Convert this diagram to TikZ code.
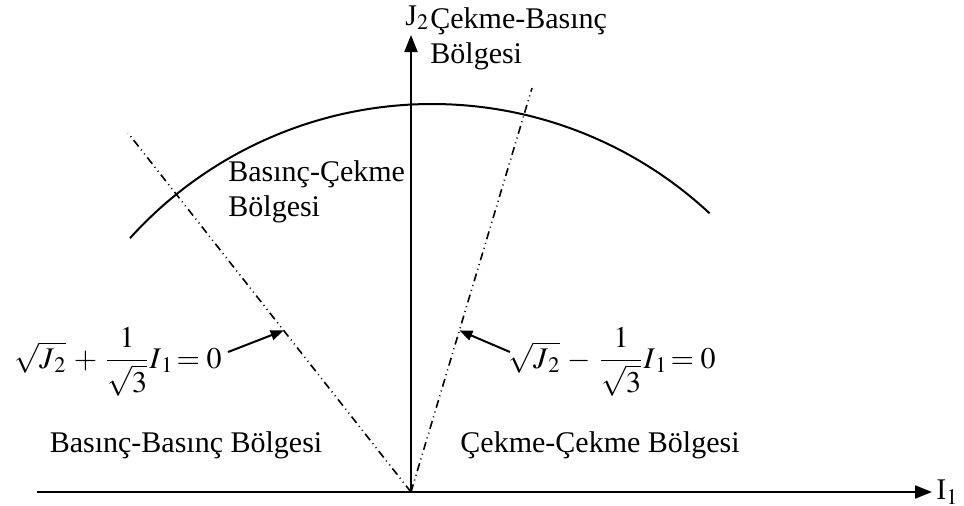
\documentclass[tikz,border=0pt]{standalone}
\usepackage{mathptmx}
\usepackage[no-math]{fontspec}
\setmainfont{Liberation Serif}
\usetikzlibrary{arrows.meta,calc}
\tikzset{
  axis/.style={line width=1pt,-{Triangle[length=8.5pt,width=6.5pt]}},
  bound/.style={line width=0.8pt,dash pattern=on 4pt off 2pt on 0.5pt off 2pt on 0.5pt off 2pt},
  pointer/.style={line width=1pt,-{Triangle[length=6.5pt,width=5pt]}},
  label/.style={inner sep=0pt,font=\fontsize{15}{17.5}\selectfont}
}
\begin{document}
\begin{tikzpicture}[x=0.5pt,y=-0.5pt]
\useasboundingbox (0,0) rectangle (964,505);
% axes
\coordinate (O) at (411,492);
\coordinate (xs) at (37,492);
\coordinate (xe) at (932,492);
\coordinate (ye) at (411,35);
\draw[axis] (xs) -- (xe);
\draw[axis] (O) -- (ye);
\node[label,anchor=west] (I1) at (936,492) {I$_{1}$};
\node[label,anchor=base west] (J2) at (405,25) {J$_{2}$};
% yield curve
\draw[line width=1pt] (432,511) ++(222.1:407) arc[start angle=222.1,end angle=313,radius=407];
% boundary lines
\coordinate (lt) at (128,133);
\coordinate (rt) at (532,88);
\draw[bound] (O) -- (lt);
\draw[bound] (O) -- (rt);
% region names
\node[label,align=left,anchor=north west] (tc) at (430,7) {Çekme-Basınç\\Bölgesi};
\node[label,align=left,anchor=north west] (ct) at (228,160) {Basınç-Çekme\\Bölgesi};
\node[label] (cc) at (186,445) {Basınç-Basınç Bölgesi};
\node[label] (tt) at (600,445) {Çekme-Çekme Bölgesi};
% boundary equations
\node[label] (leq) at (118,362) {$\displaystyle\sqrt{J_{\,2}}\,+\,\frac{1}{\sqrt{3}}I_{\,1}\!= 0$};
\node[label] (req) at (612,362) {$\displaystyle\sqrt{J_{\,2}}\,-\,\frac{1}{\sqrt{3}}I_{\,1}\!= 0$};
\draw[pointer] ($(leq.east)+(6,-10)$) -- ($(O)!0.45!(lt)$);
\draw[pointer] ($(req.west)+(2,-10)$) -- ($(O)!0.4!(rt)$);
\end{tikzpicture}
\end{document}
